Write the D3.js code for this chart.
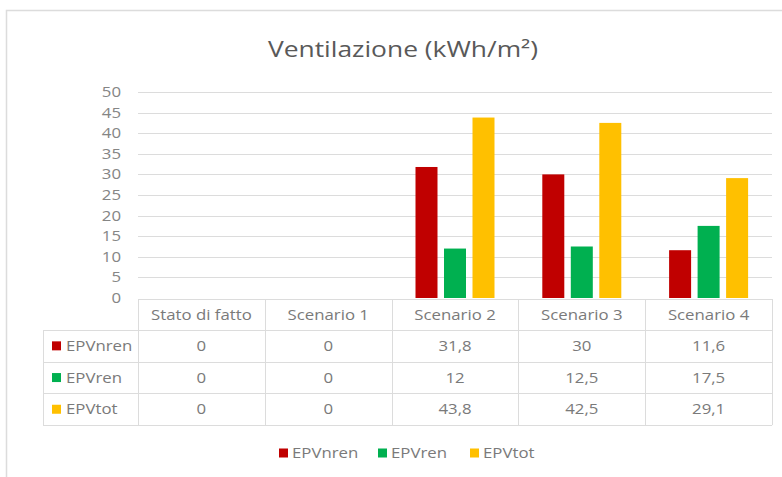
<!DOCTYPE html>
<html>
<head>
<meta charset="utf-8">
<script src="https://cdn.jsdelivr.net/npm/d3@7"></script>
<style>
  html, body { margin: 0; padding: 0; background: #fff; }
  svg { display: block; font-family: "Open Sans", "Noto Sans", sans-serif; }
</style>
</head>
<body>
<svg id="chart" width="782" height="477"></svg>
<script>
// Ventilation energy performance by scenario (kWh/m²)
const categories = ["Stato di fatto", "Scenario 1", "Scenario 2", "Scenario 3", "Scenario 4"];
const seriesNames = ["EPVnren", "EPVren", "EPVtot"];
const seriesColors = ["#C00000", "#00B050", "#FFC000"];
const epvNren = [0, 0, 31.8, 30, 11.6];
const epvRen = [0, 0, 12, 12.5, 17.5];
const epvTot = [0, 0, 43.8, 42.5, 29.1];
const yTicks = [0, 5, 10, 15, 20, 25, 30, 35, 40, 45, 50];
const chartTitle = "Ventilazione (kWh/m²)";

const seriesValues = [epvNren, epvRen, epvTot];
const series = seriesNames.map((name, i) => ({ name, color: seriesColors[i], values: seriesValues[i] }));

const itLocale = d3.formatLocale({ decimal: ",", thousands: ".", grouping: [3], currency: ["", " €"] });
const fmt = itLocale.format("~g");

const svg = d3.select("#chart");
const textColor = "#7a7a7a";
const lineColor = "#DCDCDC";
const STRETCH = 1.2; // the typeface is set slightly wide

// places text at (x, y) with a horizontal stretch about its anchor point
function placeText(sel, xf, yf) {
  return sel.attr("x", 0).attr("y", 0)
    .attr("transform", (d, i) => `translate(${typeof xf === "function" ? xf(d, i) : xf},${typeof yf === "function" ? yf(d, i) : yf}) scale(${STRETCH},1)`);
}

// chart frame
svg.append("path")
  .attr("d", "M6.5,490 V10.5 H800")
  .attr("fill", "none")
  .attr("stroke", lineColor)
  .attr("stroke-width", 1.5);

// title
placeText(svg.append("text"), 403, 57)
  .attr("text-anchor", "middle")
  .attr("fill", "#595959")
  .attr("font-size", 22)
  .text(chartTitle);

const plot = { left: 138, right: 772, top: 92, bottom: 298 };

const x = d3.scaleBand().domain(categories).range([plot.left, plot.right]);
const y = d3.scaleLinear().domain([0, 50]).range([plot.bottom, plot.top]);

// horizontal gridlines
svg.append("g")
  .selectAll("line")
  .data(yTicks.filter(t => t > 0))
  .join("line")
  .attr("x1", plot.left).attr("x2", plot.right)
  .attr("y1", d => Math.round(y(d)) + 0.5).attr("y2", d => Math.round(y(d)) + 0.5)
  .attr("stroke", lineColor).attr("stroke-width", 1);

// y axis labels
placeText(svg.append("g")
  .selectAll("text")
  .data(yTicks)
  .join("text"), 121, d => y(d) + 5)
  .attr("text-anchor", "end")
  .attr("fill", "#858585")
  .attr("font-size", 14)
  .text(d => d);

// bars
const inner = d3.scaleBand()
  .domain(seriesNames)
  .range([-42.75, 42.75])
  .paddingInner(0.228)
  .paddingOuter(0.114);

const groups = svg.append("g")
  .selectAll("g")
  .data(series)
  .join("g")
  .attr("fill", d => d.color);

groups.selectAll("rect")
  .data(d => d.values.map((v, i) => ({ v, cat: categories[i], name: d.name })))
  .join("rect")
  .attr("x", d => x(d.cat) + x.bandwidth() / 2 + inner(d.name))
  .attr("width", inner.bandwidth())
  .attr("y", d => y(d.v))
  .attr("height", d => y(0) - y(d.v));

// data table
const table = { labelLeft: 43, headerTop: 299, headerBottom: 330, rowH: 31.7 };
const tableBottom = table.headerBottom + series.length * table.rowH;
const tg = svg.append("g").attr("stroke", lineColor).attr("stroke-width", 1).attr("fill", "none");

// header row top and column dividers
tg.append("line").attr("x1", plot.left).attr("x2", plot.right)
  .attr("y1", table.headerTop + 0.5).attr("y2", table.headerTop + 0.5);
const colEdges = categories.map(c => x(c)).concat([plot.right]);
tg.selectAll("line.col")
  .data(colEdges)
  .join("line")
  .attr("class", "col")
  .attr("x1", d => Math.round(d) + 0.5).attr("x2", d => Math.round(d) + 0.5)
  .attr("y1", table.headerTop)
  .attr("y2", tableBottom);
// label column left edge
tg.append("line").attr("x1", table.labelLeft + 0.5).attr("x2", table.labelLeft + 0.5)
  .attr("y1", table.headerBottom).attr("y2", tableBottom);
// row lines
tg.selectAll("line.row")
  .data(d3.range(series.length + 1))
  .join("line")
  .attr("class", "row")
  .attr("x1", table.labelLeft).attr("x2", plot.right)
  .attr("y1", i => Math.round(table.headerBottom + i * table.rowH) + 0.5)
  .attr("y2", i => Math.round(table.headerBottom + i * table.rowH) + 0.5);

// header labels
placeText(svg.append("g")
  .selectAll("text")
  .data(categories)
  .join("text"), d => x(d) + x.bandwidth() / 2, table.headerTop + 21)
  .attr("text-anchor", "middle")
  .attr("fill", textColor)
  .attr("font-size", 14)
  .text(d => d);

// rows
const rows = svg.append("g")
  .selectAll("g")
  .data(series)
  .join("g")
  .attr("transform", (d, i) => `translate(0,${table.headerBottom + i * table.rowH})`);

rows.append("rect")
  .attr("x", 52).attr("y", table.rowH / 2 - 4.5)
  .attr("width", 9).attr("height", 9)
  .attr("fill", d => d.color);

placeText(rows.append("text"), 66, table.rowH / 2 + 5)
  .attr("fill", textColor)
  .attr("font-size", 14)
  .text(d => d.name);

placeText(rows.selectAll("text.val")
  .data(d => d.values.map((v, i) => ({ v, cat: categories[i] })))
  .join("text")
  .attr("class", "val"), d => x(d.cat) + x.bandwidth() / 2, table.rowH / 2 + 5)
  .attr("text-anchor", "middle")
  .attr("fill", textColor)
  .attr("font-size", 14)
  .text(d => fmt(d.v));

// legend
const legendX = [279, 378, 470];
const legend = svg.append("g")
  .selectAll("g")
  .data(series)
  .join("g")
  .attr("transform", (d, i) => `translate(${legendX[i]},453)`);
legend.append("rect")
  .attr("x", 0).attr("y", -4.5).attr("width", 9).attr("height", 9)
  .attr("fill", d => d.color);
placeText(legend.append("text"), 13, 5)
  .attr("fill", textColor)
  .attr("font-size", 14)
  .text(d => d.name);
</script>
</body>
</html>
